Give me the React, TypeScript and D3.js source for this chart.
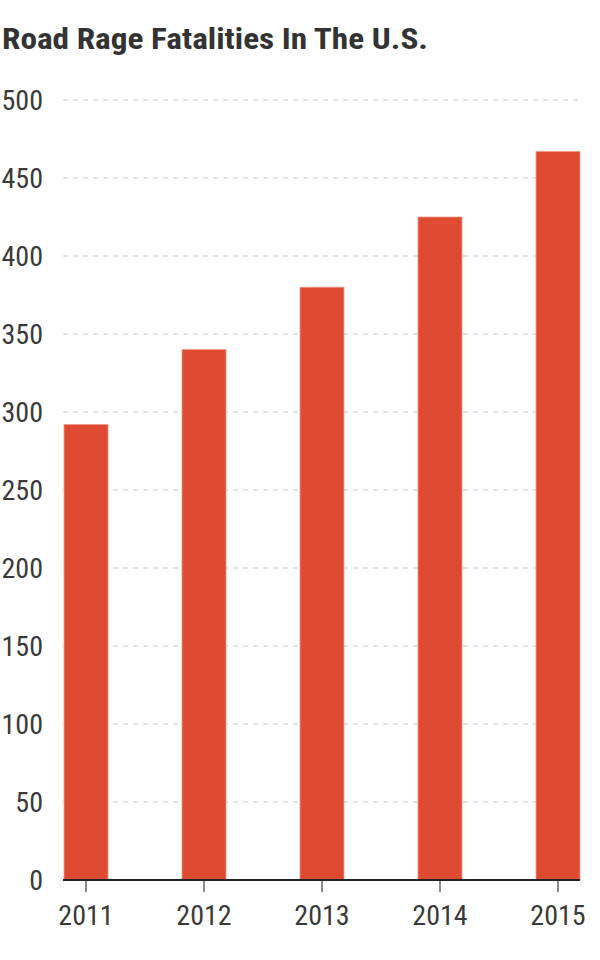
import React from "react";
import * as d3 from "d3";

const years = ["2011", "2012", "2013", "2014", "2015"];
const fatalities = [292, 340, 380, 425, 467];
const yTicks = [0, 50, 100, 150, 200, 250, 300, 350, 400, 450, 500];
const title = "Road Rage Fatalities In The U.S.";

const W = 600;
const H = 960;
const FONT = "'Liberation Sans Narrow', 'Arial Narrow', 'Roboto Condensed', sans-serif";

export default function App() {
  const x = d3.scaleBand<string>().domain(years).range([64, 580]).paddingInner(0.627).paddingOuter(0);
  const y = d3.scaleLinear().domain([0, 500]).range([880, 100]);
  const gridX0 = 63;
  const gridX1 = 580;
  return (
    <svg width={W} height={H} style={{ position: "absolute", left: 0, top: 0, display: "block" }}>
      <text x={2} y={49} fontFamily={FONT} fontWeight="bold" fontSize={29} fill="#333" textLength={426} lengthAdjust="spacingAndGlyphs">
        {title}
      </text>
      {yTicks.map((t) => (
        <g key={t}>
          {t > 0 && (
            <line x1={gridX0} x2={gridX1} y1={y(t)} y2={y(t)} stroke="#d9d9d9" strokeWidth={1.5} strokeDasharray="5,5" />
          )}
          <text x={43} y={y(t)} dy="0.36em" textAnchor="end" fontFamily={FONT} fontSize={28} fill="#3a3a3a">
            {t}
          </text>
        </g>
      ))}
      {years.map((yr, i) => (
        <rect
          key={yr}
          x={x(yr)}
          y={y(fatalities[i])}
          width={x.bandwidth()}
          height={y(0) - y(fatalities[i])}
          fill="#de4a32"
          stroke="#f09a88"
          strokeWidth={0.8}
        />
      ))}
      <line x1={gridX0} x2={gridX1} y1={y(0)} y2={y(0)} stroke="#222" strokeWidth={2} />
      {years.map((yr) => {
        const cx = (x(yr) as number) + x.bandwidth() / 2;
        return (
          <g key={yr}>
            <line x1={cx} x2={cx} y1={y(0) + 1} y2={y(0) + 12} stroke="#666" strokeWidth={1.5} />
            <text x={cx} y={925} textAnchor="middle" fontFamily={FONT} fontSize={28} fill="#3a3a3a">
              {yr}
            </text>
          </g>
        );
      })}
    </svg>
  );
}
